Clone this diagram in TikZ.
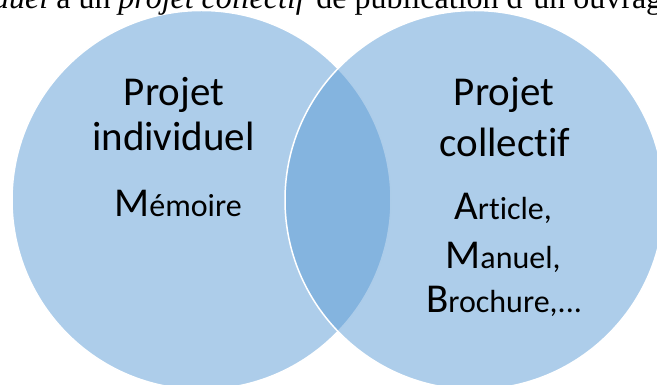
\documentclass[tikz,border=0pt]{standalone}
\usepackage{fontspec}
\setmainfont{Liberation Serif}
\newfontfamily\vennfont[Ligatures=NoCommon]{Carlito}
\definecolor{vennblue}{HTML}{5B9BD5}
\newcommand\vennbig[1]{{\fontsize{41}{45}\selectfont #1}}
\newcommand\vennsmall[1]{{\fontsize{32}{45}\selectfont #1}}
\begin{document}
\begin{tikzpicture}[x=1pt,y=1pt,
  venn/.style={circle, minimum size=379pt, inner sep=0pt, fill=vennblue, fill opacity=0.5, draw=white, line width=1.5pt},
  title/.style={font=\vennfont\fontsize{41}{45}\selectfont, inner sep=0pt, anchor=base},
  item/.style={font=\vennfont, inner sep=0pt, anchor=base},
  caption/.style={font=\fontsize{32}{36}\selectfont, inner sep=0pt, anchor=base west}]
\useasboundingbox (0,0) rectangle (657,385);
\clip (0,0) rectangle (657,385);
\node[venn] (left) at (201.5,185) {};
\node[venn] (right) at (474.5,185) {};
\node[caption] (cap) at (-7,376) {\textit{duel} à un \textit{projet collectif} de publication d'un ouvrage};
\node[title] (lp) at (174,279) {Projet};
\node[title] (li) at (173.5,234.5) {individuel};
\node[item] (lm) at (178,168) {\vennbig{M}\vennsmall{émoire}};
\node[title] (rp) at (504,279) {Projet};
\node[title] (rc) at (505,228.5) {collectif};
\node[item] (ra) at (503,165) {\vennbig{A}\vennsmall{rticle,}};
\node[item] (rm) at (503,116) {\vennbig{M}\vennsmall{anuel,}};
\node[item] (rb) at (504,72) {\vennbig{B}\vennsmall{rochure,...}};
\end{tikzpicture}
\end{document}
